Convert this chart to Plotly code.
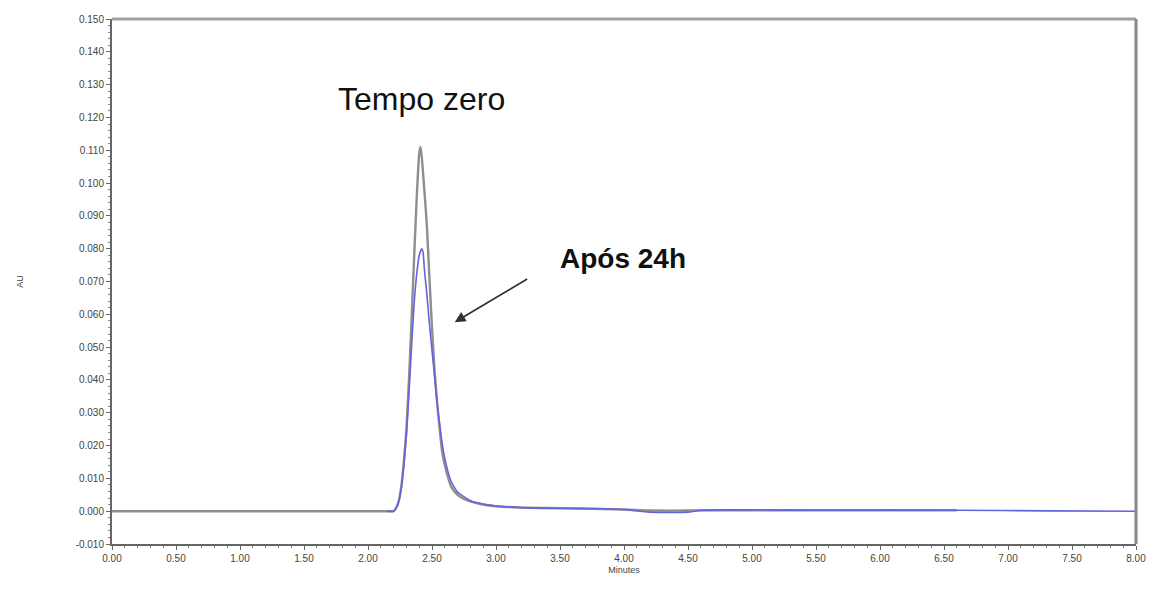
import plotly.graph_objects as go

# Tempo zero (gray trace)
t0_x = [0.00, 1.00, 2.00, 2.15, 2.20, 2.22, 2.24, 2.26, 2.28, 2.30, 2.32, 2.34, 2.36, 2.38,
        2.40, 2.41, 2.42, 2.44, 2.46, 2.48, 2.50, 2.52, 2.54, 2.56, 2.58, 2.60, 2.65, 2.70,
        2.75, 2.80, 2.90, 3.00, 3.20, 3.50, 4.00, 4.20, 4.50, 5.00, 6.00, 6.60]
t0_y = [0.0000, 0.0000, 0.0000, 0.0000, 0.0000, 0.0010, 0.0030, 0.0075, 0.0150, 0.0250,
        0.0400, 0.0580, 0.0770, 0.0950, 0.1090, 0.1110, 0.1080, 0.0980, 0.0870, 0.0710,
        0.0560, 0.0430, 0.0330, 0.0250, 0.0180, 0.0140, 0.0075, 0.0050, 0.0037, 0.0030,
        0.0020, 0.0015, 0.0011, 0.0009, 0.0005, 0.0002, 0.0002, 0.0003, 0.0003, 0.0003]

# Após 24h (blue trace)
h24_x = [2.15, 2.20, 2.22, 2.24, 2.26, 2.28, 2.30, 2.32, 2.34, 2.36, 2.38, 2.40, 2.42, 2.43,
         2.44, 2.46, 2.48, 2.50, 2.52, 2.54, 2.56, 2.58, 2.60, 2.65, 2.70, 2.80, 2.90,
         3.00, 3.20, 3.50, 3.80, 4.00, 4.20, 4.50, 4.60, 5.50, 6.60, 7.30, 8.00]
h24_y = [0.0000, 0.0000, 0.0010, 0.0030, 0.0070, 0.0140, 0.0230, 0.0360, 0.0500, 0.0630,
         0.0720, 0.0780, 0.0800, 0.0790, 0.0740, 0.0660, 0.0570, 0.0490, 0.0410, 0.0330,
         0.0265, 0.0205, 0.0160, 0.0090, 0.0058, 0.0032, 0.0022, 0.0016, 0.0011, 0.0009,
         0.0008, 0.0005, -0.0003, -0.0003, 0.0003, 0.0003, 0.0003, 0.0001, 0.0000]

y_ticks = [round(-0.01 + 0.01 * i, 3) for i in range(17)]
x_ticks = [0.5 * i for i in range(17)]

fig = go.Figure()
fig.add_trace(go.Scatter(x=t0_x, y=t0_y, mode="lines", name="Tempo zero",
                         line=dict(color="#8e8e8e", width=2.4, shape="spline", smoothing=0.5)))
fig.add_trace(go.Scatter(x=h24_x, y=h24_y, mode="lines", name="Após 24h",
                         line=dict(color="#6464e0", width=1.6, shape="spline", smoothing=0.5)))

axis_font = dict(family="Liberation Sans, Arial, sans-serif", size=10, color="#444444")

fig.update_layout(
    width=1158, height=595,
    margin=dict(l=112, r=12, t=19, b=51),
    paper_bgcolor="white", plot_bgcolor="white",
    showlegend=False,
    xaxis=dict(range=[0, 8], tickvals=x_ticks, ticktext=[f"{v:.2f}" for v in x_ticks],
               showgrid=False, zeroline=False, showline=True, linecolor="#666666", linewidth=2,
               ticks="outside", ticklen=4, tickcolor="#666666", tickfont=axis_font,
               minor=dict(ticks="outside", dtick=0.1, ticklen=2, tickcolor="#777777"),
               title=dict(text="Minutes", font=dict(family="Liberation Sans, Arial, sans-serif",
                                                     size=9, color="#444444"), standoff=4)),
    yaxis=dict(range=[-0.010, 0.150], tickvals=y_ticks, ticktext=[f"{v:.3f}" for v in y_ticks],
               showgrid=False, zeroline=False, showline=True, linecolor="#666666", linewidth=2,
               ticks="outside", ticklen=4, tickcolor="#666666", tickfont=axis_font,
               minor=dict(ticks="outside", dtick=0.002, ticklen=2, tickcolor="#888888"),
               title=dict(text="AU", font=dict(family="Liberation Sans, Arial, sans-serif",
                                                size=9, color="#444444"), standoff=50)),
    shapes=[
        dict(type="line", xref="paper", yref="paper", x0=0, x1=1, y0=1, y1=1,
             line=dict(color="#a0a0a0", width=3)),
        dict(type="line", xref="paper", yref="paper", x0=1, x1=1, y0=0, y1=1,
             line=dict(color="#888888", width=3)),
    ],
    annotations=[
        dict(x=2.42, y=0.1255, xref="x", yref="y", text="Tempo zero", showarrow=False,
             font=dict(family="Liberation Sans, Arial, sans-serif", size=32, color="#111111")),
        dict(x=3.99, y=0.0770, xref="x", yref="y", text="<b>Após 24h</b>", showarrow=False,
             font=dict(family="Liberation Sans, Arial, sans-serif", size=28, color="#111111")),
        dict(x=2.677, y=0.0576, xref="x", yref="y", text="", showarrow=True,
             arrowhead=2, arrowsize=1.2, arrowwidth=1.8, arrowcolor="#333333",
             ax=74, ay=-44),
    ],
)

fig.write_html("out.html")
